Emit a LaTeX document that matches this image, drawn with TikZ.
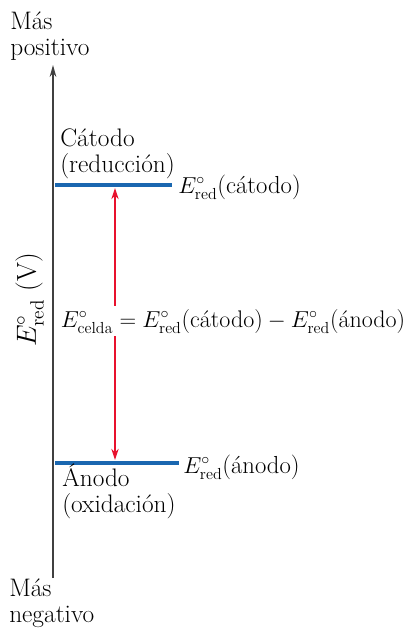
\documentclass[tikz,border=0pt]{standalone}
\usepackage{amsmath}
\usetikzlibrary{arrows.meta}
\definecolor{nivelazul}{HTML}{1A67B0}
\definecolor{flecharoja}{HTML}{E8112D}
\begin{document}
\begin{tikzpicture}[x=0.75pt, y=-0.75pt, font=\fontsize{19}{19}\selectfont,
	nivel/.style={line width=2.3pt, nivelazul},
	rotulo/.style={anchor=base west, inner sep=0pt, align=left}]
	\useasboundingbox (0,0) rectangle (412,629);
	
	% Axis
	\coordinate (abajo) at (53,578);
	\coordinate (arriba) at (53,65);
	\draw[-{Stealth[length=9pt,width=5pt]}, line width=1.1pt, black!75] (abajo) -- (arriba);
	\node[rotulo] (pos) at (10,55) {Más\\positivo};
	\node[rotulo] (neg) at (9,622) {Más\\negativo};
	\node[anchor=base, rotate=90, inner sep=0pt, font=\fontsize{20.5}{21}\selectfont] (eje) at (36,300) {$E^\circ_{\mathrm{red}}$ (V)};
	
	% Levels
	\coordinate (catI) at (55,185);
	\coordinate (catD) at (172,185);
	\coordinate (anI) at (55,463);
	\coordinate (anD) at (179,463);
	\draw[nivel] (catI) -- (catD);
	\draw[nivel] (anI) -- (anD);
	\node[rotulo] (catodo) at (60,172) {Cátodo\\(reducción)};
	\node[rotulo] (anodo) at (62,512) {Ánodo\\(oxidación)};
	\node[rotulo, font=\fontsize{18.5}{19}\selectfont] (ecat) at (178,193) {$E^\circ_{\mathrm{red}}\text{(cátodo)}$};
	\node[rotulo, font=\fontsize{18.5}{19}\selectfont] (ean) at (183,473) {$E^\circ_{\mathrm{red}}\text{(ánodo)}$};
	
	% Difference
	\coordinate (flA) at (115,188);
	\coordinate (flB) at (115,460);
	\draw[{Stealth[length=8.5pt,width=5.5pt]}-{Stealth[length=8.5pt,width=5.5pt]}, line width=0.9pt, flecharoja] (flA) -- (flB);
	\node[rotulo, fill=white, inner sep=2pt, font=\fontsize{18}{19}\selectfont] (ecelda) at (58,327)
		{$E^\circ_{\mathrm{celda}} = E^\circ_{\mathrm{red}}\text{(cátodo)} - E^\circ_{\mathrm{red}}\text{(ánodo)}$};
\end{tikzpicture}
\end{document}
